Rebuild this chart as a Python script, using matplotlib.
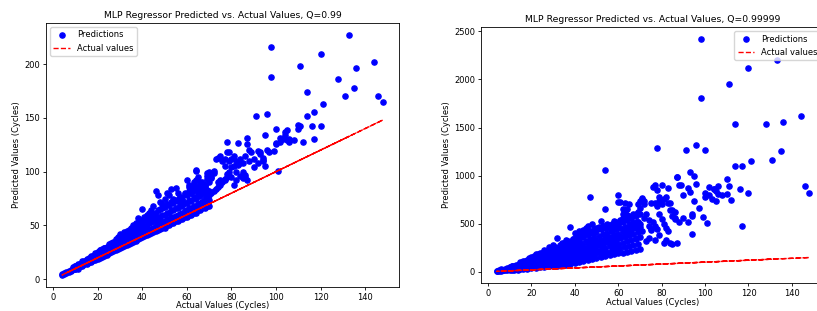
import numpy as np
import matplotlib.pyplot as plt

# actual cycles and the two model predictions
actual_main = [
    4, 4, 5, 5, 6, 6, 7, 7, 8, 8,
    9, 9, 10, 10, 11, 11, 12, 12, 13, 13,
    14, 14, 15, 15, 16, 16, 17, 17, 18, 18,
    19, 19, 20, 20, 21, 21, 22, 22, 23, 23,
    24, 24, 25, 25, 26, 26, 27, 27, 28, 28,
    29, 29, 30, 30, 31, 31, 32, 32, 33, 33,
    34, 34, 35, 35, 36, 36, 37, 37, 38, 38,
    39, 39, 40, 40, 41, 41, 42, 42, 43, 43,
    44, 44, 45, 45, 46, 46, 47, 47, 48, 48,
    49, 49, 50, 50, 51, 51, 52, 52, 53, 53,
    54, 54, 55, 55, 56, 56, 57, 57, 58, 58,
    59, 59, 60, 60, 61, 61, 62, 62, 63, 63,
    64, 64, 65, 65, 66, 66, 67, 67, 68, 68,
    69, 69, 70, 70, 71, 71, 72, 72, 73, 73,
    74, 74, 75, 75, 76, 76, 77, 77, 78, 78,
    79, 79, 80, 80, 81, 81, 82, 82, 83, 83,
    84, 84, 85, 85, 86, 86, 87, 87, 88, 88,
    91, 93, 94, 95, 95, 96, 96, 97, 98, 98,
    99, 100, 100, 101, 102, 103, 104, 105, 105, 106,
    108, 110, 110, 111, 111, 112, 114, 114, 116, 117,
    117, 120, 120, 121, 128, 131, 133, 135, 136, 144,
    146, 148,
]
pred_q99_main = [
    4, 5, 5, 6, 6, 7, 8, 7, 9, 8,
    10, 11, 10, 12, 13, 11, 14, 12, 15, 13,
    16, 14, 18, 15, 19, 16, 21, 17, 22, 18,
    23, 19, 25, 20, 27, 21, 28, 22, 29, 23,
    30, 24, 33, 25, 34, 26, 35, 27, 37, 28,
    39, 29, 42, 30, 41, 31, 44, 32, 45, 34,
    46, 35, 48, 36, 50, 37, 52, 38, 57, 40,
    55, 40, 65, 41, 58, 42, 60, 43, 62, 44,
    64, 45, 68, 47, 82, 48, 78, 49, 72, 50,
    70, 51, 75, 52, 80, 53, 78, 54, 84, 55,
    75, 54, 85, 56, 80, 57, 76, 58, 74, 60,
    80, 62, 92, 60, 88, 63, 85, 65, 90, 66,
    102, 101, 95, 68, 90, 70, 85, 72, 88, 75,
    99, 76, 100, 78, 95, 80, 101, 82, 112, 84,
    113, 86, 115, 88, 110, 90, 105, 92, 128, 95,
    118, 100, 112, 95, 115, 105, 110, 100, 127, 108,
    112, 96, 108, 94, 95, 115, 131, 92, 120, 110,
    152, 118, 110, 134, 105, 154, 120, 118, 216, 188,
    119, 140, 127, 101, 128, 130, 137, 139, 129, 128,
    129, 143, 140, 142, 198, 128, 174, 152, 142, 155,
    130, 209, 142, 163, 186, 170, 227, 178, 196, 202,
    170, 165,
]
pred_q99999_main = [
    5, 12, 8, 18, 10, 25, 14, 22, 30, 16,
    20, 38, 25, 45, 30, 55, 40, 28, 60, 35,
    50, 75, 45, 90, 65, 110, 55, 85, 120, 70,
    95, 60, 150, 80, 130, 70, 180, 100, 140, 90,
    200, 110, 160, 90, 230, 120, 180, 100, 260, 140,
    190, 110, 280, 150, 210, 120, 356, 160, 250, 130,
    300, 140, 240, 170, 330, 150, 280, 180, 470, 200,
    340, 190, 400, 210, 360, 170, 420, 230, 380, 200,
    430, 220, 450, 240, 480, 250, 780, 260, 500, 230,
    400, 270, 450, 280, 470, 290, 530, 300, 480, 260,
    1060, 650, 500, 310, 460, 330, 420, 300, 530, 340,
    480, 350, 800, 730, 520, 360, 650, 600, 430, 380,
    590, 400, 700, 420, 560, 440, 500, 460, 600, 350,
    520, 480, 660, 500, 770, 420, 740, 560, 600, 320,
    540, 350, 720, 430, 880, 520, 900, 480, 1290, 680,
    740, 600, 900, 550, 760, 500, 780, 460, 870, 420,
    710, 300, 640, 290, 620, 550, 990, 300, 900, 520,
    1270, 1034, 391, 1000, 740, 1317, 912, 660, 2424, 1812,
    570, 1262, 780, 512, 800, 760, 860, 840, 740, 810,
    800, 806, 960, 895, 1950, 745, 1535, 1100, 860, 1103,
    480, 2120, 823, 1155, 1540, 1162, 2199, 1255, 1557, 1615,
    895, 820,
]

# extra scattered points between x=60 and x=106
actual_extra = [
    61, 63, 64, 69, 70, 71, 72, 77, 78, 79,
    80, 83, 84, 85, 86, 87, 89, 90, 92, 93,
    94, 100, 102, 104, 106, 81, 82, 78, 79, 77,
    62, 63, 90, 92, 94, 74, 75, 66, 67, 68,
]
pred_q99_extra = [
    86, 88, 92, 96, 98, 94, 99, 112, 118, 110,
    104, 106, 108, 100, 97, 126, 118, 112, 119, 116,
    113, 126, 131, 134, 130, 88, 92, 98, 96, 93,
    80, 84, 104, 108, 111, 90, 92, 82, 84, 86,
]
pred_q99999_extra = [
    730, 713, 650, 700, 740, 760, 700, 720, 850, 780,
    700, 720, 640, 580, 560, 990, 900, 800, 870, 830,
    600, 820, 880, 860, 890, 300, 330, 440, 380, 330,
    560, 620, 560, 520, 580, 480, 440, 500, 470, 520,
]

# dense core of the cloud, even x
actual_core = [
    10, 10, 10, 10, 12, 12, 12, 12, 14, 14, 14, 14, 16, 16, 16, 16,
    18, 18, 18, 18, 20, 20, 20, 20, 22, 22, 22, 22, 24, 24, 24, 24,
    26, 26, 26, 26, 28, 28, 28, 28, 30, 30, 30, 30, 32, 32, 32, 32,
    34, 34, 34, 34, 36, 36, 36, 36, 38, 38, 38, 38, 40, 40, 40, 40,
    42, 42, 42, 42, 44, 44, 44, 44, 46, 46, 46, 46, 48, 48, 48, 48,
    50, 50, 50, 50, 52, 52, 52, 52, 54, 54, 54, 54, 56, 56, 56, 56,
    58, 58, 58, 58, 60, 60, 60, 60, 62, 62, 62, 62, 64, 64, 64, 64,
    66, 66, 66, 66, 68, 68, 68, 68, 70, 70, 70, 70,
]
pred_q99_core = [
    10, 11, 12, 11, 12, 13, 14, 12, 14, 15, 16, 17, 16, 17, 18, 20,
    18, 19, 21, 22, 19, 21, 23, 25, 21, 23, 25, 27, 23, 25, 27, 29,
    25, 27, 30, 32, 27, 29, 32, 35, 29, 32, 35, 38, 31, 34, 37, 41,
    33, 36, 40, 44, 35, 38, 42, 46, 37, 40, 45, 50, 39, 43, 48, 53,
    41, 45, 50, 56, 43, 47, 53, 59, 45, 50, 56, 62, 47, 52, 58, 65,
    48, 54, 60, 67, 50, 56, 62, 69, 52, 58, 64, 71, 54, 60, 66, 73,
    56, 62, 68, 75, 58, 64, 71, 78, 60, 66, 73, 80, 62, 68, 75, 82,
    64, 70, 77, 85, 66, 72, 79, 88, 68, 74, 82, 90,
]
pred_q99999_core = [
    15, 25, 35, 45, 18, 30, 42, 55, 20, 35, 50, 70, 25, 45, 65, 90,
    30, 50, 80, 105, 35, 60, 95, 130, 40, 70, 110, 150, 45, 80, 120, 165,
    50, 90, 135, 185, 55, 100, 150, 205, 60, 110, 165, 225, 65, 120, 180, 245,
    70, 130, 195, 265, 75, 140, 210, 285, 80, 150, 225, 300, 90, 160, 240, 320,
    100, 170, 255, 340, 110, 185, 270, 360, 120, 200, 290, 380, 130, 215, 305, 400,
    140, 230, 320, 420, 150, 240, 335, 440, 160, 250, 350, 455, 170, 265, 365, 470,
    180, 275, 380, 480, 190, 290, 395, 500, 200, 300, 410, 520, 210, 320, 430, 540,
    220, 330, 440, 560, 230, 345, 455, 580, 240, 360, 470, 600,
]

# dense core of the cloud, odd x
actual_fill = [
    11, 11, 11, 11, 13, 13, 13, 13, 15, 15, 15, 15, 17, 17, 17, 17,
    19, 19, 19, 19, 21, 21, 21, 21, 23, 23, 23, 23, 25, 25, 25, 25,
    27, 27, 27, 27, 29, 29, 29, 29, 31, 31, 31, 31, 33, 33, 33, 33,
    35, 35, 35, 35, 37, 37, 37, 37, 39, 39, 39, 39, 41, 41, 41, 41,
    43, 43, 43, 43, 45, 45, 45, 45, 47, 47, 47, 47, 49, 49, 49, 49,
    51, 51, 51, 51, 53, 53, 53, 53, 55, 55, 55, 55, 57, 57, 57, 57,
    59, 59, 59, 59, 61, 61, 61, 61, 63, 63, 63, 63, 65, 65, 65, 65,
    67, 67, 67, 67, 69, 69, 69, 69,
]
pred_q99_fill = [
    10, 12, 13, 14, 12, 14, 15, 17, 14, 16, 18, 19, 16, 18, 20, 22,
    18, 20, 22, 24, 20, 22, 24, 27, 22, 24, 26, 29, 24, 26, 29, 31,
    26, 28, 31, 34, 28, 30, 33, 37, 30, 33, 36, 40, 32, 35, 39, 43,
    34, 37, 41, 46, 36, 39, 44, 49, 38, 41, 46, 52, 40, 44, 49, 55,
    42, 46, 52, 58, 44, 48, 55, 61, 46, 51, 57, 64, 48, 53, 60, 66,
    50, 55, 62, 70, 52, 57, 64, 72, 54, 59, 66, 74, 56, 61, 69, 76,
    58, 63, 71, 79, 60, 66, 74, 82, 62, 68, 76, 84, 64, 70, 78, 87,
    66, 72, 81, 90, 68, 75, 83, 93,
]
pred_q99999_fill = [
    22, 32, 42, 55, 25, 40, 58, 75, 30, 52, 75, 100, 38, 62, 90, 115,
    45, 75, 110, 140, 52, 88, 125, 160, 60, 100, 140, 180, 65, 110, 155, 200,
    75, 125, 175, 220, 82, 135, 190, 240, 90, 145, 205, 260, 98, 160, 220, 280,
    105, 170, 235, 300, 112, 185, 250, 320, 122, 195, 265, 340, 132, 210, 285, 360,
    145, 225, 300, 380, 155, 240, 320, 400, 165, 255, 340, 420, 180, 270, 355, 440,
    190, 285, 370, 460, 200, 295, 390, 475, 210, 310, 405, 490, 222, 320, 420, 500,
    235, 335, 440, 520, 245, 350, 455, 540, 255, 365, 470, 560, 265, 380, 490, 580,
    275, 395, 505, 600, 285, 410, 520, 620,
]

y_test = np.array(actual_main + actual_extra + actual_core + actual_fill)
y_pred_99 = np.array(pred_q99_main + pred_q99_extra + pred_q99_core + pred_q99_fill)
y_pred_99999 = np.array(pred_q99999_main + pred_q99999_extra
                        + pred_q99999_core + pred_q99999_fill)

plt.rcParams['font.size'] = 6.0
plt.rcParams['axes.titlesize'] = 6.7
plt.rcParams['axes.linewidth'] = 0.6
plt.rcParams['xtick.major.width'] = 0.6
plt.rcParams['ytick.major.width'] = 0.6
plt.rcParams['xtick.major.size'] = 2.2
plt.rcParams['ytick.major.size'] = 2.2
plt.rcParams['xtick.major.pad'] = 2.0
plt.rcParams['ytick.major.pad'] = 2.0
plt.rcParams['axes.labelpad'] = 2.4
plt.rcParams['axes.titlepad'] = 3.6

fig = plt.figure(figsize=(8.17, 3.11), dpi=100)
ax1 = fig.add_axes([0.0563, 0.0772, 0.432, 0.849])
ax2 = fig.add_axes([0.5887, 0.090, 0.421, 0.823])

# the line runs through the points in a jumbled (test-set like) order,
# so its dashes overlap and it reads as solid
order = np.lexsort((y_test, y_pred_99999 % 10))

for ax, pred, q, loc, xl in [(ax1, y_pred_99, "0.99", "upper left", -0.052),
                             (ax2, y_pred_99999, "0.99999", "upper right", -0.060)]:
    ax.scatter(y_test, pred, color="blue", s=14, label="Predictions")
    ax.plot(y_test[order], y_test[order], "r--", lw=1.0, label="Actual values")
    ax.set_title("MLP Regressor Predicted vs. Actual Values, Q=" + q)
    ax.set_xlabel("Actual Values (Cycles)")
    ax.set_ylabel("Predicted Values (Cycles)")
    ax.xaxis.set_label_coords(0.5, xl)
    ax.legend(loc=loc)

fig.savefig("out.png", dpi=100)
